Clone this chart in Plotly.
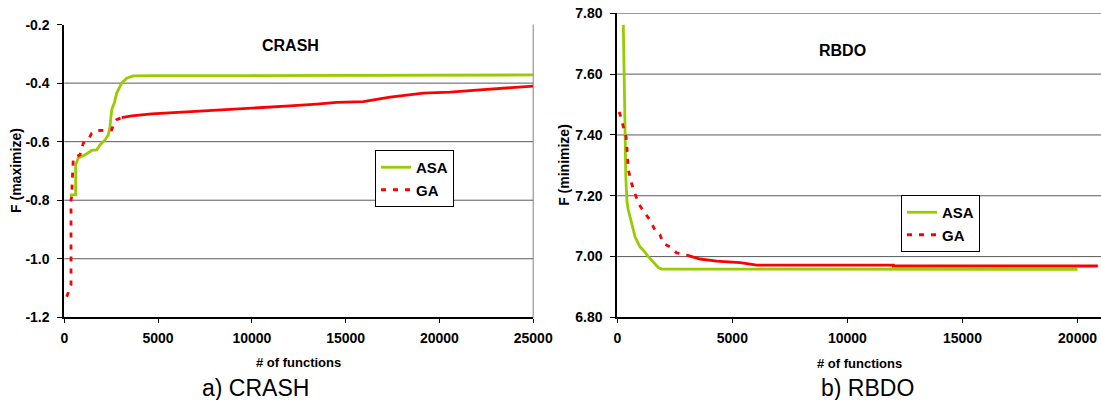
import plotly.graph_objects as go

# ---------------- data ----------------
crash_asa_x = [304, 606, 606, 746, 1103, 1460, 1727, 1903, 2170, 2345, 2436, 2527, 2665, 2793,
               3060, 3326, 3678, 4659, 10000, 16000, 17500, 25000]
crash_asa_y = [-0.782, -0.782, -0.679, -0.656, -0.645, -0.630, -0.628, -0.611, -0.594, -0.577,
               -0.548, -0.491, -0.468, -0.434, -0.400, -0.383, -0.375, -0.374, -0.374, -0.374,
               -0.372, -0.372]

crash_ga_x = [128, 304, 357, 357, 394, 426, 480, 661, 837, 1013, 1279, 1460, 1727, 2527, 2612,
              2793, 3060, 3593, 4659, 6434, 7942, 10256, 12031, 13454, 14520, 15939, 17367,
              19142, 20565, 22164, 23230, 25000]
crash_ga_y = [-1.130, -1.095, -1.090, -0.800, -0.788, -0.731, -0.656, -0.651, -0.645, -0.605,
              -0.594, -0.571, -0.562, -0.560, -0.543, -0.525, -0.518, -0.512, -0.505, -0.499,
              -0.494, -0.485, -0.478, -0.472, -0.466, -0.463, -0.448, -0.434, -0.431, -0.423,
              -0.419, -0.410]
crash_ga_dash_end = 16

rbdo_asa_x = [261, 291, 335, 370, 420, 478, 626, 770, 987, 1130, 1348, 1565, 1783, 1930, 20000]
rbdo_asa_y = [7.762, 7.591, 7.394, 7.262, 7.180, 7.153, 7.109, 7.065, 7.032, 7.021, 7.000,
              6.983, 6.964, 6.959, 6.958]

rbdo_ga_x = [87, 261, 378, 435, 478, 596, 770, 913, 1204, 1422, 1639, 1857, 2000, 2291, 2583,
             3017, 3596, 4322, 5335, 6061, 7943, 12000, 12000, 20885]
rbdo_ga_y = [7.476, 7.429, 7.394, 7.341, 7.287, 7.246, 7.210, 7.175, 7.142, 7.120, 7.087,
             7.071, 7.043, 7.032, 7.012, 7.005, 6.992, 6.985, 6.980, 6.972, 6.972, 6.972,
             6.969, 6.969]
rbdo_ga_dash_end = 15

crash_yticks = [-1.2, -1.0, -0.8, -0.6, -0.4, -0.2]
crash_yticktext = ["-1.2", "-1.0", "-0.8", "-0.6", "-0.4", "-0.2"]
crash_grid = [-0.4, -0.6, -0.8, -1.0]
crash_xticks = [0, 5000, 10000, 15000, 20000, 25000]
crash_xticktext = ["0", "5000", "10000", "15000", "20000", "25000"]

rbdo_yticks = [6.8, 7.0, 7.2, 7.4, 7.6, 7.8]
rbdo_yticktext = ["6.80", "7.00", "7.20", "7.40", "7.60", "7.80"]
rbdo_grid = [7.0, 7.2, 7.4, 7.6, 7.8]
rbdo_xticks = [0, 5000, 10000, 15000, 20000]
rbdo_xticktext = ["0", "5000", "10000", "15000", "20000"]

GREEN = "#99CC00"
RED = "#FF0000"
FONT = "Liberation Sans, Arial, sans-serif"
W, H = 1101, 400

def px_x(p):
    return p / W

def px_y(p):
    return 1 - p / H

fig = go.Figure()

# CRASH
fig.add_trace(go.Scatter(x=crash_asa_x, y=crash_asa_y, mode="lines", name="ASA",
                         line=dict(color=GREEN, width=2.8), xaxis="x", yaxis="y", legend="legend"))
fig.add_trace(go.Scatter(x=crash_ga_x[:crash_ga_dash_end + 1], y=crash_ga_y[:crash_ga_dash_end + 1],
                         mode="lines", name="GA", line=dict(color=RED, width=2.8, dash="5px,7px"),
                         xaxis="x", yaxis="y", legend="legend"))
fig.add_trace(go.Scatter(x=crash_ga_x[crash_ga_dash_end:], y=crash_ga_y[crash_ga_dash_end:],
                         mode="lines", name="GA", showlegend=False, line=dict(color=RED, width=2.8),
                         xaxis="x", yaxis="y"))

# RBDO
fig.add_trace(go.Scatter(x=rbdo_asa_x, y=rbdo_asa_y, mode="lines", name="ASA",
                         line=dict(color=GREEN, width=2.8), xaxis="x2", yaxis="y2", legend="legend2"))
fig.add_trace(go.Scatter(x=rbdo_ga_x[:rbdo_ga_dash_end + 1], y=rbdo_ga_y[:rbdo_ga_dash_end + 1],
                         mode="lines", name="GA", line=dict(color=RED, width=2.8, dash="5px,7px"),
                         xaxis="x2", yaxis="y2", legend="legend2"))
fig.add_trace(go.Scatter(x=rbdo_ga_x[rbdo_ga_dash_end:], y=rbdo_ga_y[rbdo_ga_dash_end:],
                         mode="lines", name="GA", showlegend=False, line=dict(color=RED, width=2.8),
                         xaxis="x2", yaxis="y2"))

tickfont = dict(family=FONT, size=14, color="black", weight="bold")
axis_common = dict(showgrid=False, zeroline=False, showline=True, linecolor="black", linewidth=2,
                   ticks="outside", tickcolor="black", tickwidth=1, tickfont=tickfont,
                   automargin=False, fixedrange=True)

legend_common = dict(xanchor="left", yanchor="top", bordercolor="black", borderwidth=1,
                     bgcolor="white", itemwidth=30, tracegroupgap=0,
                     font=dict(family=FONT, size=15, color="black", weight="bold"))

fig.update_layout(
    width=W, height=H,
    margin=dict(l=0, r=0, t=0, b=0),
    paper_bgcolor="white", plot_bgcolor="white",
    font=dict(family=FONT, color="black"),
    xaxis=dict(domain=[px_x(64.3), px_x(533.2)], range=[0, 25000], tickvals=crash_xticks,
               ticktext=crash_xticktext, ticklen=4, ticklabelstandoff=3, anchor="y", **axis_common),
    yaxis=dict(domain=[px_y(317.3), px_y(24.6)], range=[-1.2, -0.2], tickvals=crash_yticks,
               ticktext=crash_yticktext, ticklen=5, ticklabelstandoff=5, anchor="x", **axis_common),
    xaxis2=dict(domain=[px_x(617.3), 1.0], range=[0, 21020], tickvals=rbdo_xticks,
                ticktext=rbdo_xticktext, ticklen=4, ticklabelstandoff=3, anchor="y2", **axis_common),
    yaxis2=dict(domain=[px_y(317.4), px_y(13.3)], range=[6.8, 7.8], tickvals=rbdo_yticks,
                ticktext=rbdo_yticktext, ticklen=5, ticklabelstandoff=5, anchor="x2", **axis_common),
    legend=dict(x=px_x(375), y=px_y(150), **legend_common),
    legend2=dict(x=px_x(901), y=px_y(195), **legend_common),
    showlegend=True,
)

shapes = []
for v in crash_grid:
    shapes.append(dict(type="line", xref="x domain", yref="y", x0=0, x1=1, y0=v, y1=v,
                       line=dict(color="#5a5a5a", width=1), layer="below"))
for v in rbdo_grid:
    shapes.append(dict(type="line", xref="x2 domain", yref="y2", x0=0, x1=1, y0=v, y1=v,
                       line=dict(color="#5a5a5a", width=1), layer="below"))
shapes.append(dict(type="line", xref="x domain", yref="y domain", x0=1, x1=1, y0=0, y1=1,
                   line=dict(color="#808080", width=1), layer="below"))
fig.update_layout(shapes=shapes)

bold = dict(family=FONT, color="black", weight="bold")
center = dict(xanchor="center", yanchor="middle", showarrow=False)
ann = [
    dict(text="CRASH", x=px_x(290), y=px_y(45), xref="paper", yref="paper",
         font=dict(size=16, **bold), **center),
    dict(text="RBDO", x=px_x(842.7), y=px_y(50), xref="paper", yref="paper",
         font=dict(size=16, **bold), **center),
    dict(text="# of functions", x=0.5, y=px_y(362), xref="x domain", yref="paper",
         font=dict(size=13, **bold), **center),
    dict(text="# of functions", x=0.5, y=px_y(363), xref="x2 domain", yref="paper",
         font=dict(size=13, **bold), **center),
    dict(text="F (maximize)", x=px_x(16), y=0.5, xref="paper", yref="y domain",
         textangle=-90, font=dict(size=14, **bold), **center),
    dict(text="F (minimize)", x=px_x(564.5), y=0.5, xref="paper", yref="y2 domain",
         textangle=-90, font=dict(size=14, **bold), **center),
    dict(text="a) CRASH", x=px_x(255.4), y=px_y(388), xref="paper", yref="paper",
         font=dict(family=FONT, size=23, color="black"), **center),
    dict(text="b) RBDO", x=px_x(867.7), y=px_y(388), xref="paper", yref="paper",
         font=dict(family=FONT, size=23, color="black"), **center),
]
fig.update_layout(annotations=ann)

fig.write_html("out.html")
